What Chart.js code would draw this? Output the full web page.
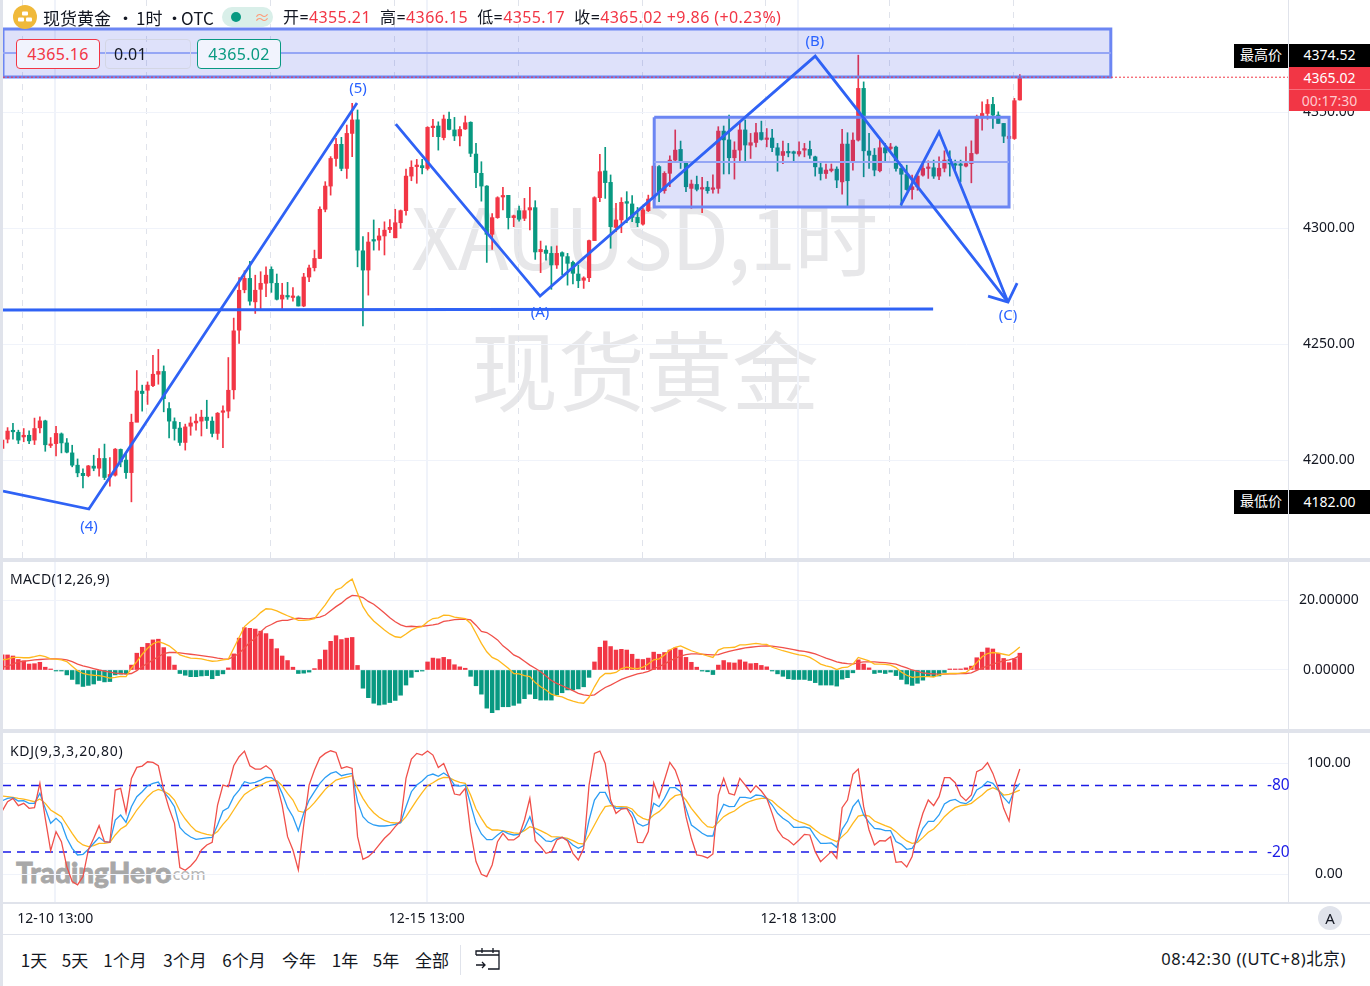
<!DOCTYPE html>
<html>
<head>
<meta charset="utf-8">
<script src="https://cdn.jsdelivr.net/npm/chart.js@4"></script>
<style>
  html, body { margin: 0; padding: 0; background: #fff; width: 1370px; height: 986px; overflow: hidden; }
  body { position: relative; font-family: "Noto Sans", "Noto Sans CJK SC", sans-serif; color: #131722; }
  canvas { position: absolute; left: 3px; }
  .t { position: absolute; white-space: nowrap; line-height: 1; }
  .sep { position: absolute; background: #e0e3eb; }
  .wm { position: absolute; color: #e7e7e9; font-family: "Noto Sans CJK SC", sans-serif; white-space: nowrap; line-height: 1; }
  .wave { position: absolute; color: #2962ff; font-size: 15px; transform: translate(-50%, -50%); line-height: 1; }
  .box { position: absolute; height: 28px; top: 39px; border-radius: 4px; border: 1px solid; font-size: 16px; line-height: 28px; text-align: center; box-sizing: content-box; letter-spacing: .3px; }
  .plabel { position: absolute; left: 1289px; width: 81px; text-align: center; color: #fff; font-size: 14px; }
  .tag { position: absolute; left: 1234px; width: 54px; text-align: center; color: #fff; background: #000; font-size: 14px; font-family: "Noto Sans CJK SC", sans-serif; }
  .range { position: absolute; top: 950px; font-size: 17px; line-height: 20px; font-family: "Noto Sans CJK SC", sans-serif; transform: translateX(-50%); white-space: nowrap; }
  .red { color: #f23645; }
</style>
</head>
<body>
<div class="wm" style="left:411px;top:192px;font-size:84px;letter-spacing:-1.6px;">XAUUSD,1时</div>
<div class="wm" style="left:471px;top:324px;font-size:87px;">现货黄金</div>
<div class="t" style="left:16px;top:858px;font-size:28px;font-weight:900;color:#a8a8a8;-webkit-text-stroke:.8px #a8a8a8;font-family:Lato,'Noto Sans',sans-serif;">TradingHero</div>
<div class="t" style="left:168px;top:866px;font-size:16.5px;color:#b5b5b5;">.com</div>

<canvas id="mainChart" width="1367" height="558" style="top:0"></canvas>
<canvas id="macdChart" width="1367" height="167" style="top:562px"></canvas>
<canvas id="kdjChart" width="1367" height="201" style="top:733px"></canvas>

<div class="sep" style="left:0;top:0;width:3px;height:986px;"></div>
<div class="sep" style="left:0;top:558px;width:1370px;height:4px;"></div>
<div class="sep" style="left:0;top:729px;width:1370px;height:4px;"></div>
<div class="sep" style="left:3px;top:902px;width:1367px;height:2px;"></div>
<div class="sep" style="left:3px;top:934px;width:1367px;height:1px;"></div>

<!-- header -->
<svg style="position:absolute;left:13px;top:5px" width="24" height="24" viewBox="0 0 24 24">
  <circle cx="12" cy="12" r="12" fill="#f0b93a"/>
  <rect x="9" y="6.5" width="6" height="4" rx="1" fill="#fff"/>
  <rect x="5" y="12.5" width="6" height="4" rx="1" fill="#fff"/>
  <rect x="13" y="12.5" width="6" height="4" rx="1" fill="#fff"/>
</svg>
<div class="t" style="left:43px;top:9px;font-size:17px;font-family:'Noto Sans CJK SC',sans-serif;">现货黄金</div>
<div class="t" style="left:117px;top:9px;font-size:17px;font-family:'Noto Sans CJK SC',sans-serif;">•</div>
<div class="t" style="left:136px;top:9px;font-size:17px;font-family:'Noto Sans CJK SC',sans-serif;">1时</div>
<div class="t" style="left:166px;top:9px;font-size:17px;font-family:'Noto Sans CJK SC',sans-serif;">•</div>
<div class="t" style="left:181px;top:9px;font-size:17px;font-family:'Noto Sans CJK SC',sans-serif;">OTC</div>
<div style="position:absolute;left:222px;top:7px;width:51px;height:20px;border-radius:10px;background:#d9efe9;"></div>
<div style="position:absolute;left:231px;top:12px;width:10px;height:10px;border-radius:5px;background:#089981;"></div>
<div class="t" style="left:254px;top:9px;font-size:16px;color:#ff9a76;">≈</div>
<div class="t" style="left:283px;top:9px;font-size:16px;letter-spacing:.4px;font-family:'Noto Sans','Noto Sans CJK SC',sans-serif;">开=<span class="red">4355.21</span>&nbsp; 高=<span class="red">4366.15</span>&nbsp; 低=<span class="red">4355.17</span>&nbsp; 收=<span class="red">4365.02</span>&nbsp;<span class="red">+9.86</span>&nbsp;<span class="red">(+0.23%)</span></div>

<!-- trade buttons -->
<div class="box red" style="left:16px;width:82px;border-color:#f23645;background:#f1f3fd;">4365.16</div>
<div class="box" style="left:105px;width:84px;border-color:#d3d6e4;text-align:left;"><span style="margin-left:8px">0.01</span></div>
<div class="box" style="left:197px;width:82px;border-color:#089981;color:#089981;background:#f1f3fd;">4365.02</div>

<!-- wave labels -->
<div class="wave" style="left:89px;top:525px;">(4)</div>
<div class="wave" style="left:358px;top:87px;">(5)</div>
<div class="wave" style="left:540px;top:311px;">(A)</div>
<div class="wave" style="left:815px;top:40px;">(B)</div>
<div class="wave" style="left:1008px;top:314px;">(C)</div>

<!-- price labels -->
<div class="tag" style="top:44px;height:24px;line-height:21px;">最高价</div>
<div class="plabel" style="top:44px;height:23px;line-height:22px;background:#000;">4374.52</div>
<div class="plabel" style="top:67px;height:22px;line-height:22px;background:#f23645;">4365.02</div>
<div class="plabel" style="top:89px;height:21px;line-height:21px;background:#f23645;color:#ffc9cd;border-top:1px solid #f8707c;">00:17:30</div>
<div class="tag" style="top:490px;height:24px;line-height:21px;">最低价</div>
<div class="plabel" style="top:490px;height:24px;line-height:23px;background:#000;">4182.00</div>

<!-- pane legends -->
<div class="t" style="left:10px;top:572px;font-size:14px;letter-spacing:.25px;">MACD(12,26,9)</div>
<div class="t" style="left:10px;top:744px;font-size:14px;letter-spacing:.7px;">KDJ(9,3,3,20,80)</div>
<div class="t" style="left:1267px;top:777px;font-size:15.5px;color:#1a1ae6;">-80</div>
<div class="t" style="left:1267px;top:844px;font-size:15.5px;color:#1a1ae6;">-20</div>

<!-- bottom bar -->
<div style="position:absolute;left:1318px;top:906px;width:24px;height:24px;border-radius:12px;background:#e0e3eb;text-align:center;line-height:24px;font-size:15px;">A</div>
<div class="range" style="left:34px;">1天</div>
<div class="range" style="left:75px;">5天</div>
<div class="range" style="left:125px;">1个月</div>
<div class="range" style="left:185px;">3个月</div>
<div class="range" style="left:244px;">6个月</div>
<div class="range" style="left:299px;">今年</div>
<div class="range" style="left:345px;">1年</div>
<div class="range" style="left:386px;">5年</div>
<div class="range" style="left:432px;">全部</div>
<div class="sep" style="left:460px;top:945px;width:1px;height:30px;"></div>
<svg style="position:absolute;left:475px;top:947px" width="26" height="25" viewBox="0 0 26 25" fill="none" stroke="#131722" stroke-width="1.3">
  <path d="M1 8h23v14h-11M1 8V4h23v4M7 1v5M18 1v5M1 18h9M7 15l3 3-3 3"/>
</svg>
<div class="t" style="right:24px;top:951px;font-size:16.5px;letter-spacing:.6px;font-family:'Noto Sans','Noto Sans CJK SC',sans-serif;">08:42:30 ((UTC+8)北京)</div>

<script>
// candles, one hour each
const opens = [
  4205.0,4209.0,4212.5,4212.0,4210.0,4210.7,4208.6,4213.9,4216.9,4206.3,
  4207.1,4211.3,4207.4,4203.1,4197.8,4194.3,4193.3,4197.4,4196.5,4200.7,
  4192.8,4193.5,4204.6,4200.0,4194.6,4216.3,4229.7,4230.1,4232.1,4237.0,
  4238.2,4222.2,4216.6,4213.8,4207.6,4214.6,4216.0,4216.8,4218.5,4216.8,
  4211.5,4220.6,4221.1,4230.3,4256.0,4273.4,4278.3,4268.2,4273.6,4276.2,
  4282.2,4276.2,4269.4,4270.7,4270.1,4270.4,4266.4,4278.9,4282.9,4286.9,
  4308.1,4318.1,4330.0,4336.1,4325.7,4340.8,4346.6,4290.2,4281.9,4294.8,
  4294.8,4296.6,4299.4,4295.8,4302.3,4307.5,4322.4,4326.5,4326.9,4325.7,
  4343.3,4344.0,4339.0,4346.9,4342.3,4339.7,4342.7,4345.6,4331.9,4323.6,
  4318.1,4297.3,4304.5,4313.4,4314.1,4304.5,4307.5,4304.2,4307.8,4308.8,
  4289.8,4290.5,4289.1,4284.1,4289.4,4287.7,4285.2,4280.2,4277.5,4278.6,
  4294.6,4313.1,4324.6,4319.7,4300.3,4303.5,4311.4,4310.4,4304.6,4301.7,
  4307.5,4312.5,4326.5,4316.1,4323.6,4329.3,4333.9,4328.3,4317.1,4318.8,
  4316.8,4317.6,4316.7,4317.1,4341.8,4338.0,4330.3,4333.6,4342.3,4335.7,
  4336.9,4341.2,4338.2,4338.8,4334.6,4331.3,4332.7,4332.9,4331.9,4333.6,
  4333.9,4330.7,4326.0,4323.5,4324.8,4325.4,4319.9,4336.2,4328.6,4337.9,
  4360.2,4333.2,4331.4,4324.7,4334.6,4334.3,4334.9,4325.7,4323.1,4316.6,
  4317.8,4322.8,4325.7,4326.0,4322.4,4325.8,4329.6,4327.6,4327.3,4326.7,
  4327.8,4332.2,4347.5,4349.4,4353.3,4348.7,4345.1,4338.6,4338.6,4355.21
];
const closes = [
  4208.6,4212.5,4212.2,4208.6,4210.7,4208.3,4213.6,4216.9,4206.6,4206.9,
  4211.5,4207.4,4203.4,4197.8,4194.5,4193.3,4197.5,4196.5,4200.7,4192.5,
  4193.8,4204.7,4199.2,4194.6,4216.3,4229.8,4228.7,4232.3,4237.0,4238.2,
  4226.5,4216.8,4213.6,4207.6,4214.3,4216.0,4216.8,4218.5,4217.1,4211.5,
  4220.2,4221.1,4230.1,4255.7,4273.2,4278.3,4268.5,4273.2,4276.2,4279.7,
  4276.4,4269.3,4271.1,4270.3,4270.5,4266.4,4278.9,4282.8,4286.9,4308.1,
  4318.1,4330.0,4336.1,4325.7,4340.8,4346.6,4290.5,4281.9,4294.0,4294.4,
  4296.6,4299.1,4300.3,4302.3,4307.5,4322.4,4326.2,4327.0,4326.0,4343.4,
  4343.7,4339.4,4347.0,4342.5,4339.7,4342.5,4345.4,4332.2,4323.9,4318.1,
  4297.3,4304.5,4313.1,4314.0,4304.5,4305.3,4303.8,4307.5,4308.8,4289.7,
  4290.8,4289.1,4284.1,4289.1,4287.9,4284.8,4280.5,4277.3,4278.5,4294.6,
  4313.1,4324.3,4319.6,4300.6,4303.5,4311.1,4310.7,4304.6,4302.3,4307.8,
  4312.5,4326.7,4315.7,4323.6,4329.3,4333.6,4328.6,4317.8,4319.0,4316.7,
  4317.4,4316.1,4317.3,4341.8,4338.0,4330.3,4333.6,4342.3,4335.8,4336.8,
  4341.1,4338.2,4338.6,4334.7,4331.4,4333.0,4332.4,4332.2,4333.0,4333.9,
  4331.4,4326.4,4323.5,4325.0,4325.4,4320.7,4336.2,4320.4,4337.9,4360.2,
  4333.3,4331.4,4325.0,4334.6,4332.4,4334.7,4325.7,4323.2,4316.6,4317.8,
  4322.4,4325.7,4326.1,4322.4,4325.8,4329.3,4327.6,4327.1,4327.0,4327.8,
  4332.2,4347.5,4349.4,4353.3,4348.7,4345.1,4339.6,4339.6,4354.9,4365.02
];
const highs = [
  4208.9,4214.0,4215.8,4212.9,4213.6,4212.6,4218.1,4218.6,4217.2,4209.7,
  4214.6,4211.7,4209.3,4206.4,4200.5,4196.2,4197.7,4202.1,4205.0,4206.9,
  4201.1,4205.0,4204.8,4202.8,4219.8,4238.6,4232.3,4233.7,4245.2,4247.7,
  4240.6,4224.8,4218.2,4216.3,4215.5,4218.6,4219.8,4221.5,4225.8,4218.6,
  4220.5,4223.4,4244.2,4261.2,4278.7,4281.6,4285.7,4279.7,4281.2,4283.3,
  4283.3,4280.2,4276.2,4276.6,4274.4,4270.8,4280.5,4284.1,4290.5,4309.2,
  4320.0,4330.8,4338.7,4339.1,4344.4,4353.8,4350.9,4296.3,4298.1,4303.5,
  4299.9,4302.7,4303.7,4308.1,4307.8,4325.4,4329.0,4329.6,4329.6,4343.7,
  4346.9,4345.8,4348.7,4350.0,4347.7,4343.7,4348.3,4345.8,4336.5,4328.6,
  4318.3,4306.3,4313.5,4317.6,4314.1,4305.6,4309.5,4312.8,4317.6,4311.8,
  4294.4,4292.4,4292.0,4292.3,4289.8,4289.1,4285.8,4284.1,4279.0,4294.8,
  4313.5,4331.8,4334.8,4322.9,4310.7,4313.1,4315.7,4314.0,4308.9,4308.5,
  4314.2,4326.9,4326.9,4324.3,4331.1,4342.3,4337.5,4328.3,4320.7,4322.4,
  4321.9,4320.1,4322.9,4343.7,4344.0,4348.7,4337.2,4345.4,4346.6,4340.8,
  4345.1,4346.1,4342.9,4342.6,4336.5,4337.5,4336.5,4333.2,4337.2,4336.5,
  4337.5,4331.0,4328.1,4327.6,4327.6,4326.4,4342.6,4341.1,4341.1,4374.52,
  4363.0,4340.8,4334.3,4338.6,4336.5,4336.5,4335.3,4327.4,4327.1,4322.8,
  4323.1,4327.8,4329.0,4329.3,4330.7,4333.3,4333.3,4329.3,4329.3,4335.0,
  4337.6,4348.7,4354.4,4355.4,4356.3,4350.1,4345.1,4340.0,4355.9,4366.15
];
const lows = [
  4203.1,4207.4,4209.0,4207.1,4207.9,4207.1,4206.7,4211.7,4203.8,4205.4,
  4201.8,4203.1,4203.1,4197.1,4192.8,4188.0,4192.8,4195.4,4193.1,4191.6,
  4188.8,4193.1,4197.1,4192.1,4182.0,4216.5,4221.1,4224.0,4231.6,4232.7,
  4220.8,4209.6,4208.6,4206.3,4204.3,4210.7,4212.9,4210.4,4213.6,4210.0,
  4208.9,4205.4,4218.2,4226.3,4250.3,4272.1,4266.8,4263.2,4264.4,4270.4,
  4272.3,4269.0,4264.7,4269.3,4268.5,4266.4,4266.1,4276.9,4281.5,4286.8,
  4307.0,4314.2,4326.7,4324.7,4321.4,4330.8,4283.3,4257.8,4271.1,4290.5,
  4290.5,4288.4,4298.0,4295.8,4299.9,4305.6,4320.4,4319.3,4323.3,4325.0,
  4339.4,4333.6,4338.0,4342.3,4337.7,4335.4,4342.5,4330.8,4317.4,4311.6,
  4285.2,4290.8,4304.2,4307.8,4299.6,4300.6,4303.0,4303.2,4299.2,4286.5,
  4280.8,4286.2,4273.6,4282.6,4279.8,4275.4,4275.9,4274.3,4274.0,4276.9,
  4294.6,4311.4,4312.8,4291.3,4298.4,4298.0,4302.3,4302.8,4300.6,4301.3,
  4307.1,4309.2,4311.4,4315.0,4317.8,4328.6,4325.7,4315.7,4308.5,4316.0,
  4306.6,4315.0,4315.0,4315.0,4323.3,4323.3,4321.1,4328.6,4328.6,4330.0,
  4335.0,4337.9,4335.0,4332.9,4324.5,4327.8,4330.7,4328.6,4331.0,4330.7,
  4330.0,4322.4,4320.7,4321.4,4324.2,4317.4,4314.6,4309.6,4325.0,4337.5,
  4322.1,4325.7,4322.5,4324.2,4328.6,4333.6,4324.5,4309.6,4316.3,4312.5,
  4316.3,4322.4,4321.4,4321.4,4320.9,4324.2,4322.4,4325.0,4319.9,4326.4,
  4319.5,4331.9,4342.2,4346.9,4342.9,4345.1,4336.8,4338.2,4338.2,4355.17
];

// MACD pane
const macdHist = [
  4.3,4.3,4.0,3.0,2.6,1.7,1.8,2.2,0.8,0.2,
  -0.1,-0.2,-1.4,-2.7,-4.0,-4.7,-4.4,-4.0,-3.0,-3.4,
  -3.3,-1.4,-1.2,-1.1,1.4,4.8,6.5,7.6,8.6,8.8,
  6.4,3.8,1.4,-1.0,-1.5,-1.9,-1.9,-1.7,-1.6,-2.5,
  -1.6,-1.1,0.6,4.6,9.1,12.1,11.9,11.7,11.1,10.4,
  8.8,6.1,4.0,2.7,0.8,-1.0,-0.9,-0.6,0.4,3.0,
  5.7,8.2,9.8,8.7,9.1,9.3,1.3,-5.2,-7.9,-9.5,
  -10.0,-9.8,-9.3,-8.7,-7.2,-4.3,-2.1,-0.5,-0.3,2.3,
  3.4,3.2,3.6,3.0,1.5,0.9,0.5,-1.8,-4.5,-6.9,
  -10.9,-12.2,-11.4,-10.5,-10.5,-10.1,-9.5,-8.2,-6.9,-8.2,
  -8.6,-8.6,-8.6,-7.1,-6.5,-5.7,-5.7,-5.4,-4.8,-2.1,
  2.3,6.5,8.3,6.7,5.7,5.9,5.7,4.5,3.1,3.0,
  3.4,5.1,4.5,5.0,5.7,6.3,5.7,3.6,2.2,0.8,
  -0.3,-0.5,-1.3,1.4,2.7,2.1,2.0,2.9,2.3,1.8,
  1.9,1.3,0.9,-0.2,-1.1,-1.8,-2.5,-2.7,-2.7,-2.7,
  -3.0,-3.6,-4.3,-4.3,-4.3,-4.6,-2.6,-2.2,-0.8,2.9,
  1.7,0.6,-1.0,-0.7,-1.0,-0.6,-1.6,-2.7,-4.0,-4.4,
  -3.8,-2.9,-1.7,-1.9,-1.7,-0.7,0.2,0.2,0.3,0.6,
  1.1,3.5,5.1,6.3,6.0,4.8,3.3,2.1,3.2,4.8
];
const macdLine = [
  2.9,3.1,3.6,3.6,3.5,3.5,3.8,4.2,3.8,3.2,
  3.1,2.9,2.4,1.1,-0.2,-1.0,-1.3,-1.5,-1.6,-1.9,
  -2.3,-2.1,-1.8,-1.9,0.5,2.4,4.5,6.2,7.5,8.1,
  7.6,6.9,5.7,4.3,3.8,3.4,3.3,3.2,2.8,2.5,
  2.6,2.9,3.1,6.2,9.3,12.4,13.8,14.9,16.4,17.5,
  17.4,16.9,16.2,15.5,14.9,14.2,14.2,14.3,14.7,16.7,
  18.6,20.9,22.9,23.5,24.9,26.0,21.9,18.1,15.7,14.0,
  12.7,11.4,10.3,9.5,9.3,10.3,11.4,12.1,12.4,13.8,
  14.7,14.9,15.7,15.6,15.1,14.9,14.7,13.3,10.5,7.6,
  5.2,3.6,2.9,1.7,0.5,-1.0,-1.1,-1.6,-1.9,-3.6,
  -4.8,-5.7,-6.9,-7.4,-7.7,-8.4,-8.9,-9.3,-9.5,-7.8,
  -4.8,-2.2,-1.0,-1.0,-0.7,0.4,0.8,0.5,0.4,0.8,
  1.7,2.9,3.2,4.3,5.7,6.5,6.9,6.2,5.5,5.0,
  4.5,4.0,3.6,5.7,6.3,6.4,6.5,7.2,7.2,7.4,
  7.6,7.4,7.3,6.5,6.0,5.5,5.1,4.7,4.3,4.1,
  3.6,2.7,1.7,1.2,0.8,0.1,0.7,0.8,1.7,3.6,
  3.1,2.6,1.7,1.7,1.6,1.4,0.7,-0.6,-1.5,-2.1,
  -2.0,-1.9,-1.9,-2.0,-1.4,-1.1,-1.0,-1.0,-0.9,-0.7,
  0.5,2.1,3.8,4.7,5.0,4.8,4.5,4.2,5.3,6.6
];
const signalLine = [
  0.8,1.1,1.7,2.3,2.5,2.7,2.9,3.0,3.1,3.2,
  3.2,3.1,2.9,2.4,1.7,1.2,0.8,0.4,0.0,-0.3,
  -0.6,-0.9,-1.0,-1.2,-1.0,-0.2,1.0,1.9,2.9,3.8,
  4.7,5.0,5.0,4.9,4.7,4.5,4.3,4.1,3.9,3.7,
  3.4,3.2,3.1,3.8,4.8,6.3,7.9,9.1,10.9,12.3,
  13.0,13.8,14.2,14.2,14.6,14.8,14.7,14.6,14.9,15.1,
  15.7,16.9,18.1,19.1,20.4,21.3,21.2,20.7,19.6,18.8,
  17.6,16.3,14.9,13.8,12.9,12.4,12.5,12.4,12.5,12.7,
  12.9,13.2,13.9,14.1,14.4,14.5,14.5,14.3,12.8,11.0,
  10.7,9.7,8.6,6.9,5.7,4.3,3.6,2.5,1.4,0.5,
  -0.5,-1.7,-3.0,-3.8,-4.5,-5.2,-5.9,-6.7,-7.1,-7.3,
  -7.1,-6.0,-5.0,-4.3,-3.5,-2.7,-2.1,-1.6,-1.1,-0.8,
  -0.4,0.3,1.0,1.7,2.6,3.3,4.0,4.4,4.6,4.6,
  4.5,4.4,4.3,4.4,4.9,5.3,5.7,6.0,6.3,6.5,
  6.7,6.8,6.9,6.8,6.6,6.4,6.1,5.8,5.5,5.3,
  5.0,4.6,4.0,3.4,2.9,2.3,2.0,1.8,1.7,2.1,
  2.3,2.3,2.3,2.2,2.1,1.9,1.7,1.1,0.6,0.0,
  -0.4,-0.8,-1.0,-1.1,-1.2,-1.2,-1.1,-1.1,-1.0,-1.0,
  -0.8,-0.1,0.6,1.1,1.7,2.2,2.6,2.9,3.3,4.1
];

// KDJ pane
const kLine = [
  66.3,68.4,69.0,66.0,66.3,63.9,63.9,72.9,59.4,45.9,
  50.4,45.9,32.4,23.4,17.4,18.0,22.5,27.9,33.3,29.4,
  28.8,48.9,53.4,46.8,60.9,69.9,74.4,79.8,81.9,83.1,
  74.4,68.4,60.9,42.3,36.9,33.6,31.5,32.1,32.7,33.3,
  44.4,57.0,60.0,69.9,75.9,83.4,81.9,82.8,84.9,87.3,
  87.0,83.4,72.9,60.0,51.9,39.3,54.9,66.9,74.4,81.9,
  87.3,90.9,92.4,88.8,90.0,90.9,65.4,51.9,46.8,44.4,
  43.5,43.5,44.1,45.0,46.5,60.9,74.4,80.4,84.0,88.8,
  90.3,88.2,91.2,87.9,80.4,79.5,80.4,63.0,45.9,36.3,
  31.2,31.2,35.4,39.0,36.6,35.4,36.0,41.4,51.9,38.4,
  34.5,30.0,29.4,32.4,33.3,30.9,26.4,23.4,25.8,48.9,
  66.9,73.8,73.8,63.9,59.4,59.7,59.4,55.8,45.9,43.5,
  45.3,63.9,60.9,68.4,78.0,78.0,74.4,59.4,44.4,40.8,
  36.9,34.5,34.5,52.5,63.0,60.9,61.2,69.3,69.3,68.4,
  71.4,70.8,68.4,62.4,54.9,50.4,47.4,42.3,42.3,42.6,
  41.4,33.9,27.9,27.9,28.2,24.3,40.5,48.0,60.9,66.9,
  53.4,46.8,41.4,40.8,39.3,39.3,29.4,27.0,22.5,23.4,
  30.9,41.4,47.7,47.7,53.4,63.3,66.3,67.5,64.5,63.6,
  66.9,75.9,78.9,83.7,81.9,75.9,69.3,63.9,75.9,81.9
];
const dLine = [
  70.5,69.9,69.3,68.4,67.8,66.6,65.4,67.8,63.9,57.9,
  54.9,51.9,44.4,36.9,30.0,26.4,24.9,25.8,27.9,27.9,
  28.8,35.4,40.8,43.8,50.4,57.9,63.9,69.9,74.4,76.5,
  75.0,72.0,66.9,57.0,49.8,43.8,39.0,37.2,36.0,35.1,
  38.4,45.0,50.4,57.9,65.4,72.0,75.3,78.0,80.4,82.8,
  84.3,84.3,79.8,72.9,66.9,57.0,55.8,59.4,64.5,70.5,
  76.5,81.0,84.9,86.4,87.6,88.8,77.4,68.4,60.9,55.5,
  51.3,48.6,46.8,46.2,46.5,51.9,59.4,66.9,73.5,79.8,
  82.5,85.5,87.3,87.0,84.6,82.8,81.9,71.4,58.8,50.4,
  42.9,39.9,39.9,39.0,38.4,37.2,36.9,39.3,42.9,41.4,
  39.3,36.9,33.9,33.6,33.3,32.4,30.3,27.9,27.3,35.4,
  44.4,53.4,60.9,61.8,61.2,60.9,60.6,58.8,53.4,50.4,
  48.9,53.4,56.4,60.9,66.9,70.8,72.0,66.9,59.4,53.4,
  47.4,42.9,42.0,46.8,51.9,54.9,57.0,60.9,63.9,66.0,
  67.5,68.4,68.4,66.3,61.8,57.9,54.0,49.8,47.4,45.9,
  43.8,39.9,36.3,33.9,31.5,29.4,33.9,38.4,45.9,52.5,
  53.4,52.5,48.0,45.9,43.8,42.0,38.4,33.9,30.0,27.9,
  28.8,33.0,37.8,40.8,45.9,51.9,56.4,60.0,61.8,62.4,
  63.9,67.8,71.4,75.9,78.0,75.9,71.4,72.0,73.8,75.9
];
const jLine = [
  57.0,65.4,68.4,61.8,63.9,59.4,60.0,81.9,50.4,21.3,
  38.4,29.4,6.9,-6.6,-9.6,-2.1,21.9,32.4,43.8,29.4,
  28.8,75.9,77.4,55.5,86.4,96.3,97.5,101.4,100.8,97.8,
  75.9,59.4,45.9,6.0,3.6,7.5,12.9,21.9,26.4,28.8,
  62.4,80.4,78.9,97.8,105.9,111.0,97.8,94.8,94.8,97.8,
  93.9,81.9,62.4,33.9,21.9,3.9,44.4,80.4,93.9,105.0,
  108.9,111.3,109.8,95.4,96.9,95.4,33.9,13.5,15.9,20.4,
  26.4,32.4,36.9,42.9,48.0,86.4,103.8,108.9,107.4,111.0,
  107.4,96.3,99.9,87.9,72.3,71.4,77.4,38.4,11.4,0.0,
  -2.1,8.4,29.4,36.9,30.9,30.9,34.5,48.9,68.4,30.3,
  24.9,18.9,20.4,30.9,33.3,30.0,18.9,12.9,23.4,80.4,
  108.9,111.0,99.9,66.9,54.9,58.8,59.4,51.0,28.8,28.5,
  38.4,82.5,69.3,84.9,100.8,93.9,80.4,51.9,32.4,17.4,
  16.5,14.7,18.3,71.4,86.4,72.9,71.4,86.4,80.4,73.8,
  79.8,75.0,68.4,54.9,39.9,33.3,30.6,26.4,30.9,36.0,
  35.4,20.4,11.4,15.9,20.4,14.4,60.0,66.9,90.0,94.8,
  60.9,39.9,26.4,30.3,30.0,33.9,10.8,11.4,6.6,15.9,
  38.4,54.9,66.9,61.8,69.9,87.0,87.0,82.5,70.8,66.3,
  71.4,92.4,94.8,100.5,90.9,77.4,59.4,48.0,80.4,94.8
];

// axis ticks
const priceTicks = [4200, 4250, 4300, 4350];
const macdTicks = [0, 20];
const kdjTicks = [0, 100];
const dayBars = [9.87, 78.87, 147.87];
const dayLabels = ['12-10 13:00', '12-15 13:00', '12-18 13:00'];
const sessionBars = [3.83, 26.83, 49.83, 72.83, 95.83, 118.83, 141.83, 164.83, 187.83];
const lastPrice = 4365.02;

// drawing tools, as [bar, price]
const waveOne = [[0.15, 4186.6], [16.1, 4178.9], [65.9, 4353.9]];
const waveTwo = [[73.1, 4344.8], [99.9, 4270.7], [151.0, 4374.1], [186.8, 4268.1]];
const waveThree = [[166.9, 4309.9], [174.0, 4341.4], [186.8, 4268.1]];
const arrowHead = [[183.1, 4270.7], [186.8, 4268.1], [188.5, 4276.3]];
const supportLine = [[0.15, 4264.7], [172.9, 4265.1]];
const topBox = [0.15, 205.9, 4385.8, 4365.1];
const midBox = [121.1, 187.0, 4347.8, 4309.1];

const UP = '#f23645', DOWN = '#089981';
const TOOL = '#2f62f5', BOX_EDGE = '#6c86f3', BOX_MID = '#95a6f5', BOX_FILL = 'rgba(35,55,221,0.15)';
const GRID = '#f0f3fa', AXIS = '#e0e3eb';
const X_MIN = 0.15, X_MAX = 238.81;

Chart.defaults.font.family = '"Noto Sans", "Noto Sans CJK SC", sans-serif';
Chart.defaults.font.size = 14;
Chart.defaults.color = '#131722';

const pts = arr => arr.map(p => ({ x: p[0], y: p[1] }));
const series = arr => arr.map((v, i) => ({ x: i, y: v }));

function toolLine(arr, width, order) {
  return { type: 'line', data: pts(arr), borderColor: TOOL, borderWidth: width, pointRadius: 0, tension: 0, fill: false, order };
}
function boxShape(b, order) {
  const [x1, x2, top, bot] = b;
  return {
    type: 'line',
    data: pts([[x1, top], [x2, top], [x2, bot], [x1, bot], [x1, top]]),
    borderColor: BOX_EDGE, borderWidth: 3, backgroundColor: BOX_FILL, fill: 'shape',
    pointRadius: 0, tension: 0, order
  };
}
function boxMid(b, order) {
  const mid = (b[2] + b[3]) / 2;
  return { type: 'line', data: pts([[b[0], mid], [b[1], mid]]), borderColor: BOX_MID, borderWidth: 2, pointRadius: 0, tension: 0, fill: false, order };
}
function lineSeries(arr, color, width, order) {
  return { type: 'line', data: series(arr), borderColor: color, borderWidth: width, pointRadius: 0, tension: 0, fill: false, order };
}

function xScale(guides) {
  return {
    type: 'linear', min: X_MIN, max: X_MAX, offset: false, position: 'bottom',
    grid: {
      offset: false, drawTicks: false,
      color: ctx => dayBars.includes(ctx.tick.value) ? GRID : AXIS,
      lineWidth: ctx => dayBars.includes(ctx.tick.value) ? 2 : 1
    },
    border: { display: false, dash: ctx => dayBars.includes(ctx.tick.value) ? [] : [6, 6] },
    ticks: { display: false },
    afterBuildTicks: axis => { axis.ticks = guides.map(v => ({ value: v })); },
    afterFit: s => { s.height = 0; s.paddingLeft = 0; s.paddingRight = 0; }
  };
}
function yScale(min, max, tickVals, digits, pad) {
  return {
    type: 'linear', min, max, position: 'right',
    grid: { color: GRID, lineWidth: 1, drawTicks: false },
    border: { color: AXIS, display: true },
    ticks: { padding: pad, autoSkip: false, crossAlign: 'center', callback: v => v.toFixed(digits) },
    afterBuildTicks: axis => { axis.ticks = tickVals.map(v => ({ value: v })); },
    afterFit: s => { s.width = 82; s.paddingTop = 0; s.paddingBottom = 0; }
  };
}
const baseOpts = {
  responsive: false, animation: false, devicePixelRatio: 1, events: [],
  layout: { padding: 0 },
  plugins: { legend: { display: false }, tooltip: { enabled: false } }
};

// price pane
const candleColors = closes.map((c, i) => c >= opens[i] ? UP : DOWN);
new Chart(document.getElementById('mainChart'), {
  type: 'bar',
  data: {
    datasets: [
      toolLine(arrowHead, 2.8, 0),
      toolLine(waveThree, 2.8, 0),
      toolLine(waveTwo, 2.8, 0),
      toolLine(waveOne, 2.8, 0),
      toolLine(supportLine, 3, 0),
      { type: 'line', data: pts([[X_MIN, lastPrice], [X_MAX, lastPrice]]), borderColor: UP, borderWidth: 1, borderDash: [2, 2], pointRadius: 0, fill: false, order: 1 },
      boxMid(topBox, 2),
      boxShape(topBox, 3),
      boxMid(midBox, 4),
      boxShape(midBox, 5),
      { type: 'bar', grouped: false, data: opens.map((o, i) => ({ x: i, y: [o, closes[i]] })), backgroundColor: candleColors, barThickness: 3.6, minBarLength: 1.5, order: 6 },
      { type: 'bar', grouped: false, data: lows.map((l, i) => ({ x: i, y: [l, highs[i]] })), backgroundColor: candleColors, barThickness: 1, order: 7 }
    ]
  },
  options: Object.assign({}, baseOpts, {
    scales: {
      x: xScale(sessionBars.concat(dayBars)),
      y: yScale(4157.8, 4398.3, priceTicks, 2, 15)
    }
  })
});

// MACD pane
new Chart(document.getElementById('macdChart'), {
  type: 'bar',
  data: {
    datasets: [
      lineSeries(macdLine, '#ffb81c', 1.3, 0),
      lineSeries(signalLine, '#f0504a', 1.3, 0),
      { type: 'bar', grouped: false, data: series(macdHist), backgroundColor: macdHist.map(v => v >= 0 ? UP : DOWN), barThickness: 3.8, minBarLength: 1, order: 2 }
    ]
  },
  options: Object.assign({}, baseOpts, {
    scales: {
      x: xScale(dayBars),
      y: yScale(-16.86, 30.86, macdTicks, 5, 11)
    }
  })
});

// KDJ pane, with the time labels on its x axis
const kdjX = xScale(dayBars);
kdjX.ticks = { display: true, autoSkip: false, maxRotation: 0, padding: 9, font: { size: 14 }, callback: v => dayLabels[dayBars.indexOf(v)] };
kdjX.afterFit = s => { s.height = 32; s.paddingLeft = 0; s.paddingRight = 0; };
new Chart(document.getElementById('kdjChart'), {
  type: 'line',
  data: {
    datasets: [
      lineSeries(jLine, '#f0504a', 1.3, 0),
      lineSeries(kLine, '#2b9df4', 1.3, 1),
      lineSeries(dLine, '#ffb81c', 1.3, 2),
      { data: pts([[X_MIN, 80], [234, 80]]), borderColor: '#1a1ae6', borderWidth: 1.5, borderDash: [8, 6], pointRadius: 0, fill: false, order: 3 },
      { data: pts([[X_MIN, 20], [234, 20]]), borderColor: '#1a1ae6', borderWidth: 1.5, borderDash: [8, 6], pointRadius: 0, fill: false, order: 3 }
    ]
  },
  options: Object.assign({}, baseOpts, {
    scales: {
      x: kdjX,
      y: yScale(-25, 127.3, kdjTicks, 2, 19)
    }
  })
});
</script>
</body>
</html>
